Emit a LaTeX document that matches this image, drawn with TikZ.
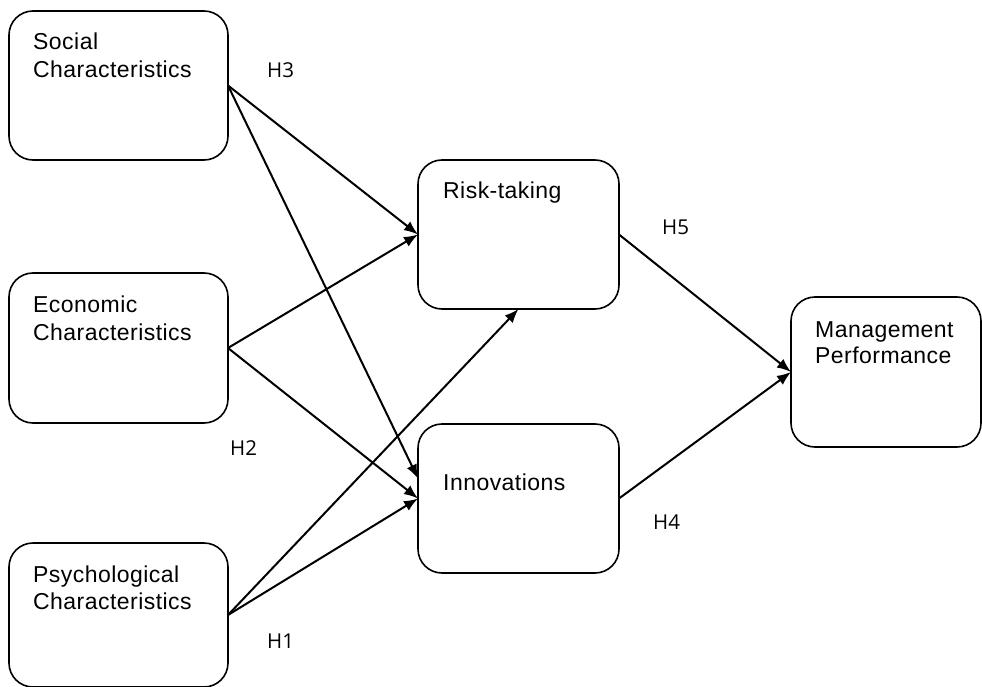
\documentclass[tikz,border=0pt]{standalone}
\usepackage{fontspec}
\setmainfont{Liberation Sans}[LetterSpace=2]
\newfontfamily\hfont{Open Sans}
\usetikzlibrary{arrows.meta,positioning,calc}
\begin{document}
\begin{tikzpicture}[x=1pt,y=-1pt,
  box/.style={draw,line width=1.6pt,rounded corners=24pt,inner sep=0pt,outer sep=0pt},
  txt/.style={anchor=base west,inner sep=0pt,font=\fontsize{23}{28}\selectfont},
  hyp/.style={anchor=base west,inner sep=0pt,font=\hfont\fontsize{20.5}{22}\selectfont},
  conn/.style={line width=2pt,-{Latex[length=14pt,width=11pt]}}]
\useasboundingbox (0,0) rectangle (982,687);
% boxes
\node[box,minimum width=219pt,minimum height=149pt] (soc) at (118.5,85.5) {};
\node[box,minimum width=219pt,minimum height=150pt] (eco) at (118.5,348) {};
\node[box,minimum width=219pt,minimum height=144pt] (psy) at (118.5,615) {};
\node[box,minimum width=201pt,minimum height=149pt] (risk) at (518.5,234.5) {};
\node[box,minimum width=201pt,minimum height=149pt] (inn) at (518.5,498.5) {};
\node[box,minimum width=190pt,minimum height=150pt] (mgmt) at (886,372) {};
% texts
\node[txt] (soc1) at (33,50) {Social};
\node[txt] (soc2) at (33,78) {Characteristics};
\node[txt] (eco1) at (33,312) {Economic};
\node[txt] (eco2) at (33,340) {Characteristics};
\node[txt] (psy1) at (33,582) {Psychological};
\node[txt] (psy2) at (33,609) {Characteristics};
\node[txt] (risk1) at (443,199) {Risk-taking};
\node[txt] (inn1) at (443,490) {Innovations};
\node[txt] (mgmt1) at (815,337) {Management};
\node[txt] (mgmt2) at (815,363) {Performance};
% hypothesis labels
\node[hyp] (h3) at (267,78) {H3};
\node[hyp] (h5) at (662,234) {H5};
\node[hyp] (h2) at (230,455) {H2};
\node[hyp] (h4) at (653,529) {H4};
\node[hyp] (h1) at (267,648) {H1};
% connectors
\draw[conn] (soc.east) -- (risk.west);
\draw[conn] (soc.east) -- ([yshift=20pt]inn.west);
\draw[conn] (eco.east) -- (risk.west);
\draw[conn] (eco.east) -- (inn.west);
\draw[conn] (psy.east) -- (risk.south);
\draw[conn] (psy.east) -- (inn.west);
\draw[conn] (risk.east) -- (mgmt.west);
\draw[conn] (inn.east) -- (mgmt.west);
\end{tikzpicture}
\end{document}
